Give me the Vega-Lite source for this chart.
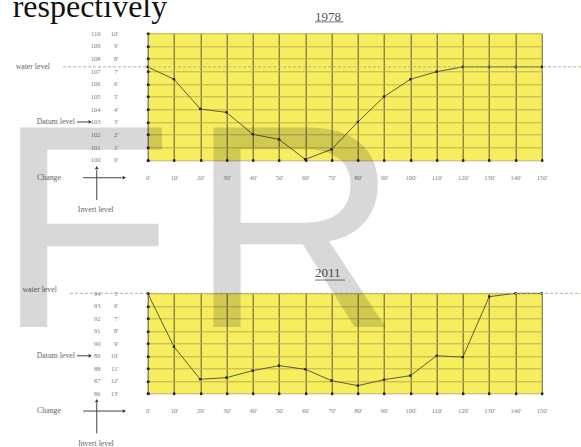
{
  "$schema": "https://vega.github.io/schema/vega-lite/v6.json",
  "autosize": {"type": "none"},
  "padding": {"left": 147.7, "top": 33.3, "right": 440, "bottom": 420},
  "background": "white",
  "bounds": "flush",
  "spacing": 133,
  "config": {
    "view": {"fill": "#f6ee5e", "stroke": null},
    "axis": {"labelFont": "Liberation Serif", "labelColor": "#808080", "labelFontSize": 6.5, "labelOverlap": false, "labelFlush": false},
    "text": {"font": "Liberation Serif", "fontSize": 7.8, "color": "#666"}
  },
  "datasets": {
    "y1978": [
      {"distance": 0, "level": 107.35}, {"distance": 10, "level": 106.37}, {"distance": 20, "level": 104.03},
      {"distance": 30, "level": 103.76}, {"distance": 40, "level": 102.03}, {"distance": 50, "level": 101.63},
      {"distance": 60, "level": 100.05}, {"distance": 70, "level": 100.84}, {"distance": 80, "level": 103.0},
      {"distance": 90, "level": 105.0}, {"distance": 100, "level": 106.37}, {"distance": 110, "level": 106.97},
      {"distance": 120, "level": 107.35}, {"distance": 130, "level": 107.35}, {"distance": 140, "level": 107.35},
      {"distance": 150, "level": 107.35}
    ],
    "y2011": [
      {"distance": 0, "level": 94.0}, {"distance": 10, "level": 89.73}, {"distance": 20, "level": 87.12},
      {"distance": 30, "level": 87.25}, {"distance": 40, "level": 87.81}, {"distance": 50, "level": 88.21},
      {"distance": 60, "level": 87.92}, {"distance": 70, "level": 87.01}, {"distance": 80, "level": 86.61},
      {"distance": 90, "level": 87.09}, {"distance": 100, "level": 87.41}, {"distance": 110, "level": 89.0},
      {"distance": 120, "level": 88.9}, {"distance": 130, "level": 93.73}, {"distance": 140, "level": 94.0},
      {"distance": 150, "level": 94.0}
    ]
  },
  "vconcat": [
    {
      "width": 394, "height": 126.7,
      "data": {"name": "y1978"},
      "resolve": {"axis": {"y": "independent", "x": "independent"}},
      "layer": [
        {
          "mark": {"type": "line", "color": "#5e5c36", "strokeWidth": 1},
          "encoding": {
            "x": {"field": "distance", "type": "quantitative", "scale": {"domain": [0, 150], "nice": false, "zero": false},
              "axis": {"values": [0,10,20,30,40,50,60,70,80,90,100,110,120,130,140,150], "labelExpr": "datum.value + \"'\"", "grid": true, "gridColor": "#5f5638", "gridWidth": 1, "domain": false, "ticks": true, "tickColor": "#222", "tickSize": 0.5, "tickWidth": 2.6, "tickCap": "round", "offset": -0.25, "labelPadding": 14.15, "title": null}},
            "y": {"field": "level", "type": "quantitative", "scale": {"domain": [100, 110], "nice": false, "zero": false},
              "axis": {"orient": "left", "values": [100,101,102,103,104,105,106,107,108,109,110], "format": "d", "grid": true, "gridColor": "#c2ac52", "gridWidth": 1, "domain": false, "ticks": true, "tickColor": "#222", "tickSize": 0.5, "tickWidth": 2.6, "tickCap": "round", "offset": -0.25, "labelPadding": 47.45, "labelAlign": "right", "title": null}}
          }
        },
        {
          "mark": {"type": "point", "filled": true, "color": "#222", "size": 7, "opacity": 1},
          "encoding": {
            "x": {"field": "distance", "type": "quantitative", "scale": {"domain": [0, 150], "nice": false, "zero": false}, "axis": null},
            "y": {"field": "level", "type": "quantitative", "scale": {"domain": [100, 110], "nice": false, "zero": false},
              "axis": {"orient": "left", "values": [100,101,102,103,104,105,106,107,108,109,110], "labelExpr": "(datum.value - 100) + \"'\"", "grid": false, "domain": false, "ticks": false, "offset": 0, "labelPadding": 29.7, "labelAlign": "right", "title": null}}
          }
        },
        {
          "data": {"values": [{}]},
          "mark": {"type": "rule", "color": "#aeb48a", "strokeWidth": 1, "strokeDash": [3, 2]},
          "encoding": {
            "x": {"datum": -32.2, "type": "quantitative", "scale": {"domain": [0, 150], "nice": false, "zero": false}, "axis": null},
            "x2": {"datum": 165},
            "y": {"datum": 107.35, "type": "quantitative", "scale": {"domain": [100, 110], "nice": false, "zero": false}, "axis": null}
          }
        },
        {
          "data": {"values": [{}]},
          "mark": {"type": "text", "text": "water level", "align": "right", "baseline": "middle"},
          "encoding": {
            "x": {"datum": -37.2, "type": "quantitative", "scale": {"domain": [0, 150], "nice": false, "zero": false}, "axis": null},
            "y": {"datum": 107.35, "type": "quantitative", "scale": {"domain": [100, 110], "nice": false, "zero": false}, "axis": null}
          }
        },
        {
          "data": {"values": [{}]},
          "mark": {"type": "text", "text": "Datum level", "align": "right", "baseline": "middle"},
          "encoding": {
            "x": {"datum": -27.7, "type": "quantitative", "scale": {"domain": [0, 150], "nice": false, "zero": false}, "axis": null},
            "y": {"datum": 103, "type": "quantitative", "scale": {"domain": [100, 110], "nice": false, "zero": false}, "axis": null}
          }
        },
        {
          "data": {"values": [{}]},
          "mark": {"type": "rule", "color": "#444", "strokeWidth": 1},
          "encoding": {
            "x": {"datum": -26.9, "type": "quantitative", "scale": {"domain": [0, 150], "nice": false, "zero": false}, "axis": null},
            "x2": {"datum": -22.5},
            "y": {"datum": 103, "type": "quantitative", "scale": {"domain": [100, 110], "nice": false, "zero": false}, "axis": null}
          }
        },
        {
          "data": {"values": [{}]},
          "mark": {"type": "point", "shape": "triangle-right", "filled": true, "color": "#333", "size": 14, "opacity": 1},
          "encoding": {
            "x": {"datum": -21.9, "type": "quantitative", "scale": {"domain": [0, 150], "nice": false, "zero": false}, "axis": null},
            "y": {"datum": 103, "type": "quantitative", "scale": {"domain": [100, 110], "nice": false, "zero": false}, "axis": null}
          }
        },
        {
          "data": {"values": [{}]},
          "mark": {"type": "text", "text": "Change", "align": "left", "baseline": "middle"},
          "encoding": {
            "x": {"datum": -42.1, "type": "quantitative", "scale": {"domain": [0, 150], "nice": false, "zero": false}, "axis": null},
            "y": {"datum": 98.6, "type": "quantitative", "scale": {"domain": [100, 110], "nice": false, "zero": false}, "axis": null}
          }
        },
        {
          "data": {"values": [{}]},
          "mark": {"type": "rule", "color": "#444", "strokeWidth": 1},
          "encoding": {
            "x": {"datum": -24.6, "type": "quantitative", "scale": {"domain": [0, 150], "nice": false, "zero": false}, "axis": null},
            "x2": {"datum": -9.6},
            "y": {"datum": 98.6, "type": "quantitative", "scale": {"domain": [100, 110], "nice": false, "zero": false}, "axis": null}
          }
        },
        {
          "data": {"values": [{}]},
          "mark": {"type": "point", "shape": "triangle-right", "filled": true, "color": "#333", "size": 14, "opacity": 1},
          "encoding": {
            "x": {"datum": -8.9, "type": "quantitative", "scale": {"domain": [0, 150], "nice": false, "zero": false}, "axis": null},
            "y": {"datum": 98.6, "type": "quantitative", "scale": {"domain": [100, 110], "nice": false, "zero": false}, "axis": null}
          }
        },
        {
          "data": {"values": [{}]},
          "mark": {"type": "rule", "color": "#444", "strokeWidth": 1},
          "encoding": {
            "x": {"datum": -19.4, "type": "quantitative", "scale": {"domain": [0, 150], "nice": false, "zero": false}, "axis": null},
            "y": {"datum": 96.84, "type": "quantitative", "scale": {"domain": [100, 110], "nice": false, "zero": false}, "axis": null},
            "y2": {"datum": 99.2}
          }
        },
        {
          "data": {"values": [{}]},
          "mark": {"type": "point", "shape": "triangle-up", "filled": true, "color": "#333", "size": 14, "opacity": 1},
          "encoding": {
            "x": {"datum": -19.4, "type": "quantitative", "scale": {"domain": [0, 150], "nice": false, "zero": false}, "axis": null},
            "y": {"datum": 99.4, "type": "quantitative", "scale": {"domain": [100, 110], "nice": false, "zero": false}, "axis": null}
          }
        },
        {
          "data": {"values": [{}]},
          "mark": {"type": "text", "text": "Invert level", "align": "center", "baseline": "middle"},
          "encoding": {
            "x": {"datum": -19.8, "type": "quantitative", "scale": {"domain": [0, 150], "nice": false, "zero": false}, "axis": null},
            "y": {"datum": 96.05, "type": "quantitative", "scale": {"domain": [100, 110], "nice": false, "zero": false}, "axis": null}
          }
        },
        {
          "data": {"values": [{}]},
          "mark": {"type": "text", "text": "1978", "align": "left", "baseline": "alphabetic", "fontSize": 13, "color": "#555"},
          "encoding": {
            "x": {"datum": 63.7, "type": "quantitative", "scale": {"domain": [0, 150], "nice": false, "zero": false}, "axis": null},
            "y": {"datum": 110.99, "type": "quantitative", "scale": {"domain": [100, 110], "nice": false, "zero": false}, "axis": null}
          }
        },
        {
          "data": {"values": [{}]},
          "mark": {"type": "rule", "color": "#777", "strokeWidth": 1},
          "encoding": {
            "x": {"datum": 63.7, "type": "quantitative", "scale": {"domain": [0, 150], "nice": false, "zero": false}, "axis": null},
            "x2": {"datum": 74.5},
            "y": {"datum": 110.9, "type": "quantitative", "scale": {"domain": [100, 110], "nice": false, "zero": false}, "axis": null}
          }
        },
        {
          "data": {"values": [{}]},
          "mark": {"type": "text", "text": "respectively", "align": "left", "baseline": "alphabetic", "fontSize": 32, "color": "#111"},
          "encoding": {
            "x": {"datum": -51.4, "type": "quantitative", "scale": {"domain": [0, 150], "nice": false, "zero": false}, "axis": null},
            "y": {"datum": 111.3, "type": "quantitative", "scale": {"domain": [100, 110], "nice": false, "zero": false}, "axis": null}
          }
        }
      ]
    },
    {
      "width": 394, "height": 100,
      "data": {"name": "y2011"},
      "resolve": {"axis": {"y": "independent", "x": "independent"}},
      "layer": [
        {
          "mark": {"type": "line", "color": "#5e5c36", "strokeWidth": 1},
          "encoding": {
            "x": {"field": "distance", "type": "quantitative", "scale": {"domain": [0, 150], "nice": false, "zero": false},
              "axis": {"values": [0,10,20,30,40,50,60,70,80,90,100,110,120,130,140,150], "labelExpr": "datum.value + \"'\"", "grid": true, "gridColor": "#5f5638", "gridWidth": 1, "domain": false, "ticks": true, "tickColor": "#222", "tickSize": 0.5, "tickWidth": 2.6, "tickCap": "round", "offset": -0.25, "labelPadding": 14.15, "title": null}},
            "y": {"field": "level", "type": "quantitative", "scale": {"domain": [86, 94], "nice": false, "zero": false},
              "axis": {"orient": "left", "values": [86,87,88,89,90,91,92,93,94], "format": "d", "grid": true, "gridColor": "#c2ac52", "gridWidth": 1, "domain": false, "ticks": true, "tickColor": "#222", "tickSize": 0.5, "tickWidth": 2.6, "tickCap": "round", "offset": -0.25, "labelPadding": 47.45, "labelAlign": "right", "title": null}}
          }
        },
        {
          "mark": {"type": "point", "filled": true, "color": "#222", "size": 7, "opacity": 1},
          "encoding": {
            "x": {"field": "distance", "type": "quantitative", "scale": {"domain": [0, 150], "nice": false, "zero": false}, "axis": null},
            "y": {"field": "level", "type": "quantitative", "scale": {"domain": [86, 94], "nice": false, "zero": false},
              "axis": {"orient": "left", "values": [86,87,88,89,90,91,92,93,94], "labelExpr": "(99 - datum.value) + \"'\"", "grid": false, "domain": false, "ticks": false, "offset": 0, "labelPadding": 29.7, "labelAlign": "right", "title": null}}
          }
        },
        {
          "data": {"values": [{}]},
          "mark": {"type": "rule", "color": "#aeb48a", "strokeWidth": 1, "strokeDash": [3, 2]},
          "encoding": {
            "x": {"datum": -29.6, "type": "quantitative", "scale": {"domain": [0, 150], "nice": false, "zero": false}, "axis": null},
            "x2": {"datum": 165},
            "y": {"datum": 94, "type": "quantitative", "scale": {"domain": [86, 94], "nice": false, "zero": false}, "axis": null}
          }
        },
        {
          "data": {"values": [{}]},
          "mark": {"type": "text", "text": "water level", "align": "right", "baseline": "middle"},
          "encoding": {
            "x": {"datum": -34.6, "type": "quantitative", "scale": {"domain": [0, 150], "nice": false, "zero": false}, "axis": null},
            "y": {"datum": 94.26, "type": "quantitative", "scale": {"domain": [86, 94], "nice": false, "zero": false}, "axis": null}
          }
        },
        {
          "data": {"values": [{}]},
          "mark": {"type": "text", "text": "Datum level", "align": "right", "baseline": "middle"},
          "encoding": {
            "x": {"datum": -27.7, "type": "quantitative", "scale": {"domain": [0, 150], "nice": false, "zero": false}, "axis": null},
            "y": {"datum": 89, "type": "quantitative", "scale": {"domain": [86, 94], "nice": false, "zero": false}, "axis": null}
          }
        },
        {
          "data": {"values": [{}]},
          "mark": {"type": "rule", "color": "#444", "strokeWidth": 1},
          "encoding": {
            "x": {"datum": -26.9, "type": "quantitative", "scale": {"domain": [0, 150], "nice": false, "zero": false}, "axis": null},
            "x2": {"datum": -22.5},
            "y": {"datum": 89, "type": "quantitative", "scale": {"domain": [86, 94], "nice": false, "zero": false}, "axis": null}
          }
        },
        {
          "data": {"values": [{}]},
          "mark": {"type": "point", "shape": "triangle-right", "filled": true, "color": "#333", "size": 14, "opacity": 1},
          "encoding": {
            "x": {"datum": -21.9, "type": "quantitative", "scale": {"domain": [0, 150], "nice": false, "zero": false}, "axis": null},
            "y": {"datum": 89, "type": "quantitative", "scale": {"domain": [86, 94], "nice": false, "zero": false}, "axis": null}
          }
        },
        {
          "data": {"values": [{}]},
          "mark": {"type": "text", "text": "Change", "align": "left", "baseline": "middle"},
          "encoding": {
            "x": {"datum": -42.1, "type": "quantitative", "scale": {"domain": [0, 150], "nice": false, "zero": false}, "axis": null},
            "y": {"datum": 84.58, "type": "quantitative", "scale": {"domain": [86, 94], "nice": false, "zero": false}, "axis": null}
          }
        },
        {
          "data": {"values": [{}]},
          "mark": {"type": "rule", "color": "#444", "strokeWidth": 1},
          "encoding": {
            "x": {"datum": -24.6, "type": "quantitative", "scale": {"domain": [0, 150], "nice": false, "zero": false}, "axis": null},
            "x2": {"datum": -9.6},
            "y": {"datum": 84.58, "type": "quantitative", "scale": {"domain": [86, 94], "nice": false, "zero": false}, "axis": null}
          }
        },
        {
          "data": {"values": [{}]},
          "mark": {"type": "point", "shape": "triangle-right", "filled": true, "color": "#333", "size": 14, "opacity": 1},
          "encoding": {
            "x": {"datum": -8.9, "type": "quantitative", "scale": {"domain": [0, 150], "nice": false, "zero": false}, "axis": null},
            "y": {"datum": 84.58, "type": "quantitative", "scale": {"domain": [86, 94], "nice": false, "zero": false}, "axis": null}
          }
        },
        {
          "data": {"values": [{}]},
          "mark": {"type": "rule", "color": "#444", "strokeWidth": 1},
          "encoding": {
            "x": {"datum": -19.4, "type": "quantitative", "scale": {"domain": [0, 150], "nice": false, "zero": false}, "axis": null},
            "y": {"datum": 82.8, "type": "quantitative", "scale": {"domain": [86, 94], "nice": false, "zero": false}, "axis": null},
            "y2": {"datum": 85.25}
          }
        },
        {
          "data": {"values": [{}]},
          "mark": {"type": "point", "shape": "triangle-up", "filled": true, "color": "#333", "size": 14, "opacity": 1},
          "encoding": {
            "x": {"datum": -19.4, "type": "quantitative", "scale": {"domain": [0, 150], "nice": false, "zero": false}, "axis": null},
            "y": {"datum": 85.42, "type": "quantitative", "scale": {"domain": [86, 94], "nice": false, "zero": false}, "axis": null}
          }
        },
        {
          "data": {"values": [{}]},
          "mark": {"type": "text", "text": "Invert level", "align": "center", "baseline": "middle"},
          "encoding": {
            "x": {"datum": -19.7, "type": "quantitative", "scale": {"domain": [0, 150], "nice": false, "zero": false}, "axis": null},
            "y": {"datum": 81.94, "type": "quantitative", "scale": {"domain": [86, 94], "nice": false, "zero": false}, "axis": null}
          }
        },
        {
          "data": {"values": [{}]},
          "mark": {"type": "text", "text": "2011", "align": "left", "baseline": "alphabetic", "fontSize": 13, "color": "#555"},
          "encoding": {
            "x": {"datum": 63.7, "type": "quantitative", "scale": {"domain": [0, 150], "nice": false, "zero": false}, "axis": null},
            "y": {"datum": 95.33, "type": "quantitative", "scale": {"domain": [86, 94], "nice": false, "zero": false}, "axis": null}
          }
        },
        {
          "data": {"values": [{}]},
          "mark": {"type": "rule", "color": "#777", "strokeWidth": 1},
          "encoding": {
            "x": {"datum": 63.7, "type": "quantitative", "scale": {"domain": [0, 150], "nice": false, "zero": false}, "axis": null},
            "x2": {"datum": 75.1},
            "y": {"datum": 95.06, "type": "quantitative", "scale": {"domain": [86, 94], "nice": false, "zero": false}, "axis": null}
          }
        },
        {
          "data": {"values": [{}]},
          "mark": {"type": "text", "text": "F", "align": "left", "baseline": "alphabetic", "font": "Liberation Sans", "fontSize": 290, "color": "#000", "opacity": 0.15},
          "encoding": {
            "x": {"datum": -57.6, "type": "quantitative", "scale": {"domain": [0, 150], "nice": false, "zero": false}, "axis": null},
            "y": {"datum": 91.3, "type": "quantitative", "scale": {"domain": [86, 94], "nice": false, "zero": false}, "axis": null}
          }
        },
        {
          "data": {"values": [{}]},
          "mark": {"type": "text", "text": "R", "align": "left", "baseline": "alphabetic", "font": "Liberation Sans", "fontSize": 290, "color": "#000", "opacity": 0.15},
          "encoding": {
            "x": {"datum": 16.0, "type": "quantitative", "scale": {"domain": [0, 150], "nice": false, "zero": false}, "axis": null},
            "y": {"datum": 91.3, "type": "quantitative", "scale": {"domain": [86, 94], "nice": false, "zero": false}, "axis": null}
          }
        }
      ]
    }
  ]
}
